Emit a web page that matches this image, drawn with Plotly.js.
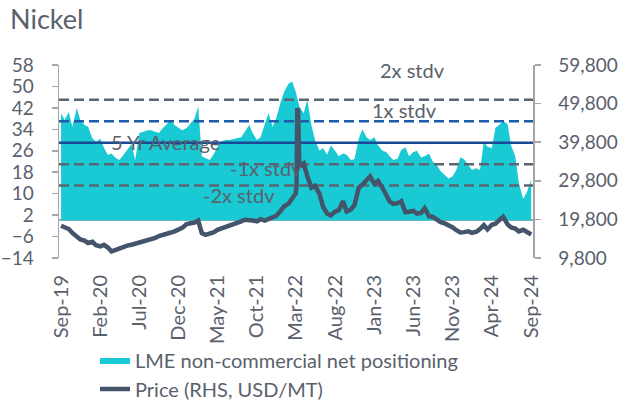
<!DOCTYPE html>
<html>
<head>
<meta charset="utf-8">
<script src="https://cdn.plot.ly/plotly-3.0.1.min.js"></script>
<style>html,body{margin:0;padding:0;background:#fff;}#chart{width:625px;height:403px;}</style>
</head>
<body>
<div id="chart"></div>
<script>
// Dates (semi-monthly, with extra points around the March 2022 nickel squeeze)
const dates = [
"2019-09-01","2019-09-15","2019-10-01","2019-10-15","2019-11-01","2019-11-15","2019-12-01","2019-12-15",
"2020-01-01","2020-01-15","2020-02-01","2020-02-15","2020-03-01","2020-03-15","2020-04-01","2020-04-15","2020-05-01","2020-05-15","2020-06-01","2020-06-15","2020-07-01","2020-07-15","2020-08-01","2020-08-15","2020-09-01","2020-09-15","2020-10-01","2020-10-15","2020-11-01","2020-11-15","2020-12-01","2020-12-15",
"2021-01-01","2021-01-15","2021-02-01","2021-02-15","2021-03-01","2021-03-15","2021-04-01","2021-04-15","2021-05-01","2021-05-15","2021-06-01","2021-06-15","2021-07-01","2021-07-15","2021-08-01","2021-08-15","2021-09-01","2021-09-15","2021-10-01","2021-10-15","2021-11-01","2021-11-15","2021-12-01","2021-12-15",
"2022-01-01","2022-01-15","2022-02-01","2022-02-15","2022-03-01","2022-03-04","2022-03-07","2022-03-10","2022-03-15","2022-04-01","2022-04-15","2022-05-01","2022-05-15","2022-06-01","2022-06-15","2022-07-01","2022-07-15","2022-08-01","2022-08-15","2022-09-01","2022-09-15","2022-10-01","2022-10-15","2022-11-01","2022-11-15","2022-12-01","2022-12-15",
"2023-01-01","2023-01-15","2023-02-01","2023-02-15","2023-03-01","2023-03-15","2023-04-01","2023-04-15","2023-05-01","2023-05-15","2023-06-01","2023-06-15","2023-07-01","2023-07-15","2023-08-01","2023-08-15","2023-09-01","2023-09-15","2023-10-01","2023-10-15","2023-11-01","2023-11-15","2023-12-01","2023-12-15",
"2024-01-01","2024-01-15","2024-02-01","2024-02-15","2024-03-01","2024-03-15","2024-04-01","2024-04-15","2024-05-01","2024-05-15","2024-06-01","2024-06-15","2024-07-01","2024-07-15","2024-08-01","2024-08-15","2024-09-01"
];

// LME non-commercial net positioning (LHS)
const netPositioning = [
40,37.5,40.5,35,42,37.5,35.6,35,
30.6,29.4,30.5,27,24.4,25,23.3,22.6,24.5,26.5,28.5,22.5,32.6,33,33.7,33.7,33,32.6,34.5,36,37.5,35.6,34.5,33.7,
34.5,36,38,42.5,24,23.3,22.6,24.5,27.5,29.5,30,30,30.5,30.7,31,33,35.6,32.5,30,31,36,40,35,38,
44,48,51,51.8,48,47,46,44.5,42.5,40,45,35.5,30,26,27,24.5,28,26,24,25,24.5,22.6,22.8,30.5,34,31,30,
31,28,26,25.5,24,22.6,23,26.3,27.3,24,25.5,26,23.5,24,25,22,20.5,18.5,17,15.7,16.5,18.8,23.6,22.8,
20.7,18.8,19.5,18.8,29.4,27.5,27,34.5,35.8,37,36,28,24,14,8,10.5,15
];

// Price (RHS, USD/MT)
const price = [
18150,17800,17300,16300,15300,14600,14300,13700,
14000,13100,12800,13200,12500,11500,11900,12300,12800,13000,13230,13500,13700,14200,14550,14800,15000,15500,15900,16200,16400,16700,17200,17600,
18600,18800,19000,19500,16250,15800,16000,16400,17100,17400,17800,18300,18700,19000,19300,19700,19700,19500,19300,19850,19500,19900,20300,20700,
22000,23200,23900,25000,26500,28500,48600,48000,33500,34300,31000,28000,28500,26500,23140,21300,20800,21800,22200,24500,21850,22300,23500,28000,28800,30000,30900,
29000,29800,28000,26000,24440,23800,24000,24500,21700,21800,22000,21300,21500,22700,20600,20500,19600,19100,18750,18400,17700,17000,16400,16500,
16700,16300,16600,17300,18300,17200,18400,18700,19500,20500,18500,17700,17400,16700,17100,16500,15900
];

// Reference levels (5-year average and standard deviation bands)
const refLabels = ["2x stdv","1x stdv","5 Yr Average","-1x stdv","-2x stdv"];
const refLevels = [45, 37, 29, 21, 13];
const refColors = ["#5a6573","#1f5bab","#1a4a96","#5a6573","#5a6573"];
const refDash = ["10px,5px","10px,5px","solid","10px,5px","10px,5px"];

// X tick labels
const tickDates = ["2019-09-01","2020-02-01","2020-07-01","2020-12-01","2021-05-01","2021-10-01","2022-03-01","2022-08-01","2023-01-01","2023-06-01","2023-11-01","2024-04-01","2024-09-01"];
const tickLabels = ["Sep-19","Feb-20","Jul-20","Dec-20","May-21","Oct-21","Mar-22","Aug-22","Jan-23","Jun-23","Nov-23","Apr-24","Sep-24"];

const xRange = ["2019-08-24","2024-09-08"];
const FONT = "Lato, 'Open Sans', sans-serif";
const TXT = "#5a616c";
const AX = "#a6a6a6";

const traces = [];
traces.push({
  type: "scatter", mode: "lines", x: dates, y: netPositioning,
  fill: "tozeroy", fillcolor: "#19c9d3", line: {width: 0, color: "#19c9d3"},
  name: "LME non-commercial net positioning", yaxis: "y", hoverinfo: "skip"
});
refLevels.forEach((lv, k) => {
  traces.push({
    type: "scatter", mode: "lines", x: xRange, y: [lv, lv],
    line: {color: refColors[k], width: 2.5, dash: refDash[k]},
    showlegend: false, hoverinfo: "skip", yaxis: "y"
  });
});
traces.push({
  type: "scatter", mode: "lines", x: dates, y: price,
  line: {color: "#44546a", width: 4.5},
  name: "Price (RHS, USD/MT)", yaxis: "y2", hoverinfo: "skip"
});

const annPos = [
  {x: 0.745, y: 56.1},
  {x: 0.728, y: 41.2},
  {x: 0.224, y: 29.4},
  {x: 0.437, y: 19.6},
  {x: 0.379, y: 9.5}
];
const annotations = refLabels.map((t, k) => ({
  text: t, xref: "paper", yref: "y", x: annPos[k].x, y: annPos[k].y,
  showarrow: false, xanchor: "center", yanchor: "middle",
  font: {family: FONT, size: 20, color: TXT}
}));

const layout = {
  width: 625, height: 403,
  margin: {l: 59, r: 92, t: 65, b: 145, autoexpand: false},
  paper_bgcolor: "#ffffff", plot_bgcolor: "#ffffff",
  font: {family: FONT, size: 20, color: TXT},
  title: {text: "Nickel", x: 10/625, xanchor: "left", xref: "container", y: 1 - 10/403, yanchor: "top", yref: "container",
          font: {family: FONT, size: 27, color: TXT}},
  showlegend: true,
  legend: {x: 0.076, xanchor: "left", y: -0.428, yanchor: "top", orientation: "v",
           font: {family: FONT, size: 20, color: TXT}, bgcolor: "rgba(0,0,0,0)", tracegroupgap: 0},
  xaxis: {
    type: "date", range: xRange, tickvals: tickDates, ticktext: tickLabels,
    tickangle: -90, showgrid: false, showline: false, zeroline: false, ticks: "",
    ticklabelstandoff: 12, tickfont: {family: FONT, size: 20, color: TXT}, automargin: false
  },
  yaxis: {
    range: [-14, 58], tick0: -14, dtick: 8, showgrid: false,
    showline: true, linecolor: AX, linewidth: 1.5, ticks: "outside", ticklen: 6, tickcolor: AX, tickwidth: 1.5,
    zeroline: true, zerolinecolor: AX, zerolinewidth: 2, automargin: false,
    ticklabelstandoff: 14, tickfont: {family: FONT, size: 19, color: TXT}
  },
  yaxis2: {
    overlaying: "y", side: "right", range: [9800, 59800], tick0: 9800, dtick: 10000, tickformat: ",d",
    showgrid: false, zeroline: false, automargin: false,
    showline: true, linecolor: AX, linewidth: 1.5, ticks: "outside", ticklen: 6, tickcolor: AX, tickwidth: 1.5,
    ticklabelstandoff: 14, tickfont: {family: FONT, size: 19, color: TXT}
  },
  annotations: annotations
};

Plotly.newPlot("chart", traces, layout, {staticPlot: true, displayModeBar: false});
</script>
</body>
</html>
